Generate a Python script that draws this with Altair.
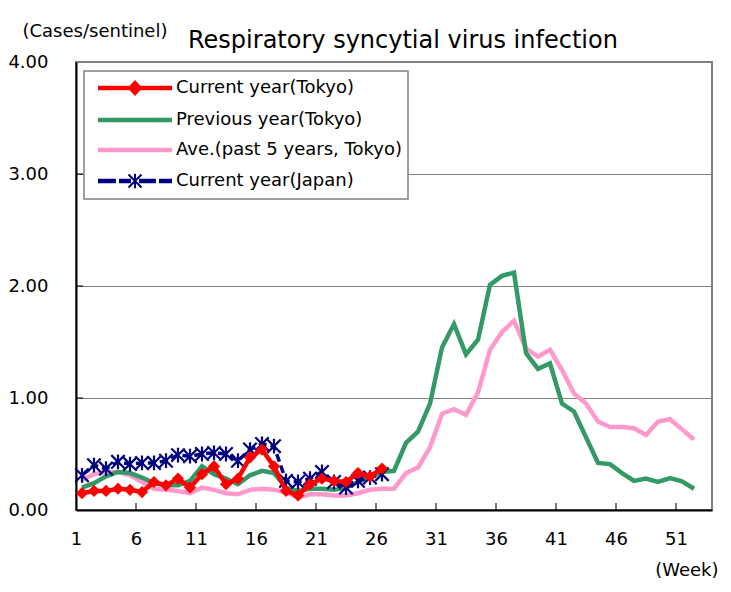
import altair as alt
import pandas as pd

# ---------------- data ----------------
weeks = list(range(1, 53))

current_tokyo = [0.15, 0.17, 0.17, 0.19, 0.18, 0.16, 0.25, 0.22, 0.28, 0.20,
                 0.32, 0.39, 0.23, 0.28, 0.47, 0.54, 0.39, 0.17, 0.13, 0.23,
                 0.28, 0.26, 0.25, 0.33, 0.30, 0.37]

previous_tokyo = [0.20, 0.24, 0.30, 0.34, 0.33, 0.29, 0.24, 0.22, 0.22, 0.26,
                  0.39, 0.32, 0.28, 0.23, 0.31, 0.35, 0.33, 0.20, 0.17, 0.19,
                  0.19, 0.18, 0.20, 0.25, 0.29, 0.34, 0.35, 0.60, 0.70, 0.95,
                  1.45, 1.66, 1.39, 1.52, 2.01, 2.09, 2.12, 1.40, 1.26, 1.31,
                  0.95, 0.88, 0.65, 0.42, 0.41, 0.33, 0.26, 0.28, 0.25, 0.285,
                  0.255, 0.19]

average_5yr = [0.27, 0.32, 0.34, 0.34, 0.31, 0.25, 0.19, 0.18, 0.17, 0.15,
               0.20, 0.18, 0.15, 0.14, 0.18, 0.19, 0.18, 0.16, 0.11, 0.14,
               0.14, 0.13, 0.13, 0.15, 0.18, 0.19, 0.19, 0.33, 0.38, 0.56,
               0.86, 0.90, 0.85, 1.05, 1.43, 1.59, 1.69, 1.44, 1.37, 1.43,
               1.25, 1.04, 0.95, 0.79, 0.74, 0.74, 0.73, 0.67, 0.79, 0.81,
               0.72, 0.63]

current_japan = [0.31, 0.40, 0.37, 0.43, 0.41, 0.42, 0.42, 0.44, 0.49, 0.48,
                 0.50, 0.51, 0.50, 0.44, 0.54, 0.59, 0.57, 0.26, 0.25, 0.28,
                 0.34, 0.25, 0.20, 0.26, 0.29, 0.32]

series_names = ["Current year(Tokyo)", "Previous year(Tokyo)",
                "Ave.(past 5 years, Tokyo)", "Current year(Japan)"]
series_colors = ["#FF0000", "#339966", "#FF99CC", "#000080"]

x_tick_values = [0.5 + 5 * i for i in range(11)]   # category boundaries, labelled 1, 6, ... 51
y_tick_values = [0, 1, 2, 3, 4]
y_inner_ticks = [1, 2, 3]

# ---------------- tables ----------------
def frame(name, vals):
    return pd.DataFrame({"week": weeks[:len(vals)], "value": vals, "series": name})

df = pd.concat([frame(n, v) for n, v in zip(
    series_names, [current_tokyo, previous_tokyo, average_5yr, current_japan])],
    ignore_index=True)

xt_df = pd.DataFrame({"week": x_tick_values[1:], "value": [0] * (len(x_tick_values) - 1)})
yt_df = pd.DataFrame({"week": [0.5] * len(y_inner_ticks), "value": y_inner_ticks})

FONT = "DejaVu Sans"

x_scale = alt.Scale(domain=[0.5, 53.5], nice=False, zero=False)
y_scale = alt.Scale(domain=[0, 4], nice=False, zero=True)

x_axis = alt.Axis(values=x_tick_values, labelExpr="format(datum.value + 0.5, 'd')",
                  grid=False, ticks=False, domainColor="black", domainWidth=2,
                  labelFont=FONT, labelFontSize=18, labelColor="black", labelPadding=20,
                  labelFlush=False, labelOverlap=False,
                  title="(Week)", titleFont=FONT, titleFontSize=18, titleFontWeight="normal",
                  titleColor="black", titleX=642, titleY=60, titleAlign="right",
                  titleBaseline="middle")
y_axis = alt.Axis(values=y_tick_values, format=".2f", grid=True, gridColor="#808080",
                  gridWidth=1, ticks=False, domainColor="black", domainWidth=2,
                  labelFont=FONT, labelFontSize=18, labelColor="black", labelPadding=28,
                  title="(Cases/sentinel)", titleFont=FONT, titleFontSize=18,
                  titleFontWeight="normal", titleColor="black", titleAngle=0,
                  titleX=-54, titleY=-31, titleAlign="left", titleBaseline="middle")

x_enc = alt.X("week:Q", scale=x_scale, axis=x_axis)
y_enc = alt.Y("value:Q", scale=y_scale, axis=y_axis)

def sel(name):
    return alt.Chart(df).transform_filter(alt.datum.series == name)

avg_line = sel(series_names[2]).mark_line(color="#FF99CC", strokeWidth=4.5).encode(x=x_enc, y=y_enc)
prev_line = sel(series_names[1]).mark_line(color="#339966", strokeWidth=4.5).encode(x=x_enc, y=y_enc)

ASTERISK = "M-1,-1L1,1M-1,1L1,-1M0,-1.1L0,1.1"
jp_line = sel(series_names[3]).mark_line(color="#000080", strokeWidth=3.5,
                                         strokeDash=[8, 4]).encode(x=x_enc, y=y_enc)
jp_pts = sel(series_names[3]).mark_point(shape=ASTERISK, size=180, filled=False,
                                         color="#000080", strokeWidth=2.2,
                                         opacity=1).encode(x=x_enc, y=y_enc)

cur_line = sel(series_names[0]).mark_line(color="#FF0000", strokeWidth=4.5).encode(x=x_enc, y=y_enc)
cur_pts = sel(series_names[0]).mark_point(shape="diamond", size=150, filled=True,
                                          color="#FF0000", opacity=1).encode(x=x_enc, y=y_enc)

# inward tick marks (clipped to the plot area)
x_ticks = alt.Chart(xt_df).mark_tick(orient="vertical", size=14, thickness=1.5,
                                     color="black", clip=True).encode(x=x_enc, y=y_enc)
y_ticks = alt.Chart(yt_df).mark_tick(orient="horizontal", size=14, thickness=1.5,
                                     color="black", clip=True).encode(x=x_enc, y=y_enc)

# legend symbols: line (+ marker) drawn as custom paths (10 px per unit)
def bar(a, b, h=0.125):
    return f"M{a},{-h}L{b},{-h}L{b},{h}L{a},{h}Z"

legend_paths = [
    bar(-0.2, 7.0) + "M2.8,0L3.4,-0.65L4.0,0L3.4,0.65Z",
    bar(-0.2, 7.0),
    bar(-0.2, 7.0),
    bar(-0.2, 1.4) + bar(1.9, 2.9) + bar(3.9, 5.4) + bar(5.9, 7.0)
    + "M2.75,-0.65L4.05,0.65M2.75,0.65L4.05,-0.65M3.4,-0.72L3.4,0.72",
]

leg = alt.Legend(title=None, orient="none", legendX=8, legendY=9, padding=6,
                 labelFont=FONT, labelFontSize=18, labelColor="black", labelLimit=500,
                 labelOffset=64, rowPadding=10, symbolSize=400, symbolStrokeWidth=2,
                 symbolOpacity=1, strokeColor="#808080", fillColor="white")

color_scale = alt.Scale(domain=series_names, range=series_colors)
legend_layer = alt.Chart(df).mark_point(filled=True, opacity=0).encode(
    x=x_enc, y=y_enc,
    fill=alt.Fill("series:N", scale=color_scale, legend=leg, sort=series_names),
    stroke=alt.Stroke("series:N", scale=color_scale, legend=leg, sort=series_names),
    shape=alt.Shape("series:N", scale=alt.Scale(domain=series_names, range=legend_paths),
                    legend=leg, sort=series_names),
)

chart = alt.layer(
    avg_line, prev_line, jp_line, jp_pts, cur_line, cur_pts, x_ticks, y_ticks, legend_layer
).properties(
    width=636, height=448,
    title=alt.TitleParams("Respiratory syncytial virus infection", font=FONT, fontSize=24,
                          fontWeight="normal", color="black", anchor="start", frame="group",
                          dx=112, dy=41, offset=10),
    autosize=alt.AutoSizeParams(type="none"),
    padding={"left": 68, "top": 54, "right": 11, "bottom": 74},
).configure_view(stroke="#808080", strokeWidth=2
).configure_legend(strokeWidth=1.5)

chart.save("out.html", embed_options={"renderer": "svg", "actions": False})
